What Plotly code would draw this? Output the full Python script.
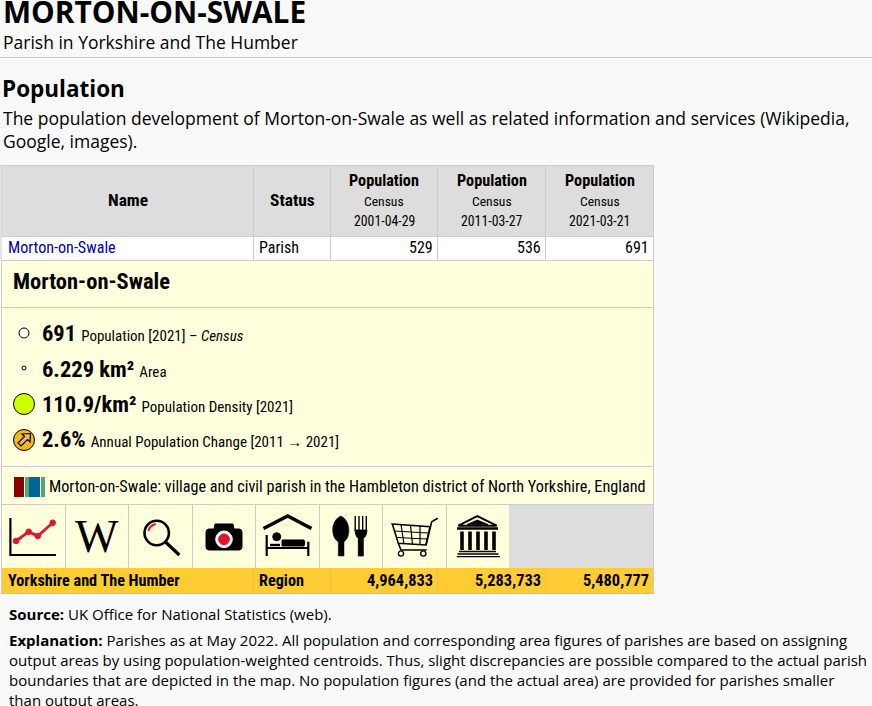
import plotly.graph_objects as go

page_bg = '#f9f9f9'
grid = '#cccccc'
header_bg = '#dddddd'
yellow = '#ffffdd'
gold = '#ffcc33'
red = '#e2142d'
sans = 'Open Sans'
cond = 'Roboto Condensed, Liberation Sans Narrow, Roboto'
clear = 'rgba(0,0,0,0)'

title = 'MORTON-ON-SWALE'
subtitle = 'Parish in Yorkshire and The Humber'
section = 'Population'
intro = ['The population development of Morton-on-Swale as well as related information and services (Wikipedia,',
         'Google, images).']

census_dates = ['2001-04-29', '2011-03-27', '2021-03-21']
parish_pop = ['529', '536', '691']
region_pop = ['4,964,833', '5,283,733', '5,480,777']
column_edges = [1, 253.5, 330.5, 437.5, 545.5, 653.5]
icon_edges = [65.5, 128.5, 192.5, 255.5, 319.5, 382.5, 446.5]

facts = [('691', 'Population [2021] – <i>Census</i>', 333),
         ('6.229 km²', 'Area', 369),
         ('110.9/km²', 'Population Density [2021]', 404),
         ('2.6%', 'Annual Population Change [2011 → 2021]', 439)]
description = 'Morton-on-Swale: village and civil parish in the Hambleton district of North Yorkshire, England'

source = '<b>Source:</b> UK Office for National Statistics (web).'
explanation = ['<b>Explanation:</b> Parishes as at May 2022. All population and corresponding area figures of parishes are based on assigning',
               'output areas by using population-weighted centroids. Thus, slight discrepancies are possible compared to the actual parish',
               'boundaries that are depicted in the map. No population figures (and the actual area) are provided for parishes smaller',
               'than output areas.']

fig = go.Figure()
shapes = []
notes = []


def rect(x0, y0, x1, y1, fill, line=None, width=1):
    shapes.append(dict(type='rect', x0=x0, y0=y0, x1=x1, y1=y1, fillcolor=fill,
                       line=dict(color=line, width=width) if line else dict(width=0)))


def hline(x0, x1, y, color=grid):
    shapes.append(dict(type='line', x0=x0, x1=x1, y0=y, y1=y, line=dict(color=color, width=1)))


def vline(x, y0, y1, color=grid):
    shapes.append(dict(type='line', x0=x, x1=x, y0=y0, y1=y1, line=dict(color=color, width=1)))


def circle(cx, cy, r, fill, line='#000000', width=1):
    shapes.append(dict(type='circle', x0=cx - r, x1=cx + r, y0=cy - r, y1=cy + r, fillcolor=fill,
                       line=dict(color=line, width=width)))


def path(d, fill=clear, line='#000000', width=2):
    shapes.append(dict(type='path', path=d, fillcolor=fill, line=dict(color=line, width=width)))


def text(x, y, s, size, family=sans, color='#000000', anchor='left', yanchor='middle'):
    notes.append(dict(x=x, y=y, text=s, showarrow=False, xanchor=anchor, yanchor=yanchor, xref='x', yref='y',
                      font=dict(size=size, family=family, color=color), borderpad=0, borderwidth=0))


# page header
text(3, 11, '<b>%s</b>' % title, 29.8)
text(3, 42, subtitle, 17.5)
hline(0, 872, 57.5, '#c8c8c8')
text(2, 88, '<b>%s</b>' % section, 22.5)
text(3, 118, intro[0], 17.5)
text(3, 141, intro[1], 17.5)

# table backgrounds
rect(1, 165, 653.5, 236, header_bg)
rect(1, 236, 653.5, 260, '#ffffff')
rect(1, 260, 653.5, 504, yellow)
rect(1, 504, 509, 568, yellow)
rect(509, 504, 653.5, 568, header_bg)
rect(1, 568, 653.5, 594, gold)

# table rules
for y in [165.5, 236.5, 260.5, 307.5, 466.5, 504.5]:
    hline(1, 653.5, y)
for x in column_edges:
    vline(x, 165, 260)
vline(1.5, 260, 594)
vline(653.5, 260, 594)
for x in icon_edges:
    vline(x, 504, 568)
hline(1, 653.5, 593.5, '#e0c060')
for x in column_edges[1:-1]:
    vline(x, 568, 594, '#f0c040')

# table header
text(128, 200, '<b>Name</b>', 17.4, cond, anchor='center')
text(292, 200, '<b>Status</b>', 17.4, cond, anchor='center')
for i, date in enumerate(census_dates):
    cx = (column_edges[i + 2] + column_edges[i + 3]) / 2
    text(cx, 180, '<b>Population</b>', 16.2, cond, anchor='center')
    text(cx, 201, 'Census', 13.6, cond, anchor='center')
    text(cx, 221, date, 13.8, cond, anchor='center')

# parish row
text(8, 247.5, 'Morton-on-Swale', 16.1, cond, color='#0000aa')
text(259, 247.5, 'Parish', 16, cond)
for i, value in enumerate(parish_pop):
    text(column_edges[i + 3] - 5, 247.5, value, 16, cond, anchor='right')

# details panel
text(13, 281, '<b>Morton-on-Swale</b>', 22.5, cond)
for value, label, y in facts:
    s = '<b><span style="font-size:22.5px">%s</span></b><span style="font-size:11px">  </span>%s' % (value, label)
    text(42, y, s, 15, cond)
circle(24, 333, 5, '#ffffff')
circle(24, 368, 2, '#ffffff')
circle(24, 404, 10.5, '#ccff00')
circle(24, 440, 10.5, '#f2b81c')
path('M 30.5 433.5 L 22 434 L 24.5 436.5 L 18 443 L 21 446 L 27.5 439.5 L 30 442 Z', fill='#e8c04a', width=1.2)

# wiki logo
rect(14, 477, 24, 497, '#8b0000')
rect(25, 477, 29, 497, '#5aa17f')
rect(29, 477, 40, 497, '#006699')
rect(41, 477, 45, 497, '#5aa17f')
text(49, 486.5, description, 16.2, cond)

# icons, in page pixels
path('M 10.4 518 L 10.4 555 L 56 555', width=2.2)
path('M 16 541 L 28.7 531.7 L 37.7 536 L 52.7 522.7', line=red, width=2.8)
for cx, cy in [(16, 541), (28.7, 531.7), (37.7, 536), (52.7, 522.7)]:
    circle(cx, cy, 2.8, red, red)
text(97, 536, 'W', 46, 'Liberation Serif', anchor='center')
circle(156.7, 533, 12.2, clear, width=2.6)
path('M 165.5 542 L 179.3 555', width=3.2)
path('M 148.5 531 Q 149.5 525.5 155.7 524', line=red, width=2)
path('M 206 532 Q 206 529 209 529 L 214 529 L 215 524 L 233 524 L 234 529 L 239 529 Q 242 529 242 532 '
     'L 242 547 Q 242 550 239 550 L 209 550 Q 206 550 206 547 Z', fill='#000000', line='#000000', width=1)
circle(224, 539.3, 8.3, '#ffffff', '#ffffff')
circle(224, 539.3, 5.4, red, red)
path('M 263.5 528.5 L 287.7 516 L 311.5 528.5', width=3.6)
path('M 266.7 535 L 266.7 556 M 308.3 541.7 L 308.3 556 M 266.7 548 L 308.3 548', width=2.2)
circle(276.7, 536.7, 4, '#000000')
path('M 270 545 L 280 545', width=2.4)
path('M 282 540 L 304 540 Q 305.5 543 304 546 L 282 546 Z', fill='#000000', width=1)
path('M 340.8 516 C 331 520 330 537 338.3 541.7 L 338.3 556 L 344 556 L 344 541.7 '
     'C 351.5 537 350.5 520 340.8 516 Z', fill='#000000', line='#000000', width=0.5)
path('M 355.2 516 L 355.2 531 M 359 516 L 359 531 M 362.7 516 L 362.7 531 M 366.3 516 L 366.3 531', width=1.4)
path('M 355 530 Q 355.5 537 358.3 538 L 358.3 556 L 363.3 556 L 363.3 538 Q 366.5 537 367 530 Z',
     fill='#000000', width=0.8)
path('M 392.3 524 L 430 526.7 L 426 545 L 398.3 543.3 Z', width=1.6)
path('M 426 545 L 431.7 521.7 L 437.7 518.3 M 398.3 543.3 L 401 550 L 426.7 550', width=1.6)
path('M 394.5 531 L 428.5 533 M 397 537.5 L 427.5 539 M 401 524.5 L 404 544 M 410.5 525 L 412.5 544.5 '
     'M 420 526 L 420 545', width=1.2)
circle(401, 553.5, 2.6, clear, width=1.4)
circle(423.3, 553.5, 2.6, clear, width=1.4)
path('M 458.3 525.7 L 477.3 516 L 496.7 525.7 Z', width=2)
path('M 467 524.5 L 477.3 520 L 488 524.5 Z', fill='#000000', width=0.8)
path('M 457 528.5 L 498 528.5', width=2.4)
for x in [462, 470, 478, 486, 494]:
    path('M %s 531.5 L %s 550' % (x, x), width=3.6)
path('M 459 551.5 L 496 551.5 M 457.5 554 L 498.5 554 M 456.7 556.7 L 500 556.7', width=1.3)

# region row
text(8, 580.5, '<b>Yorkshire and The Humber</b>', 16.2, cond)
text(259, 580.5, '<b>Region</b>', 16.2, cond)
for i, value in enumerate(region_pop):
    text(column_edges[i + 3] - 5, 580.5, '<b>%s</b>' % value, 16.4, cond, anchor='right')

# notes under the table
text(9, 614, source, 15)
text(9, 640, explanation[0], 15)
text(9, 660, explanation[1], 15)
text(9, 680, explanation[2], 15)
text(9, 700, explanation[3], 15)

fig.update_layout(
    width=872, height=706, margin=dict(l=0, r=0, t=0, b=0),
    paper_bgcolor=page_bg, plot_bgcolor=page_bg, showlegend=False,
    xaxis=dict(range=[0, 872], visible=False, fixedrange=True),
    yaxis=dict(range=[706, 0], visible=False, fixedrange=True),
    shapes=shapes, annotations=notes,
)
fig.write_html("out.html", config={'displayModeBar': False},
               post_script="document.body.style.margin='0';document.body.style.overflow='hidden';")
